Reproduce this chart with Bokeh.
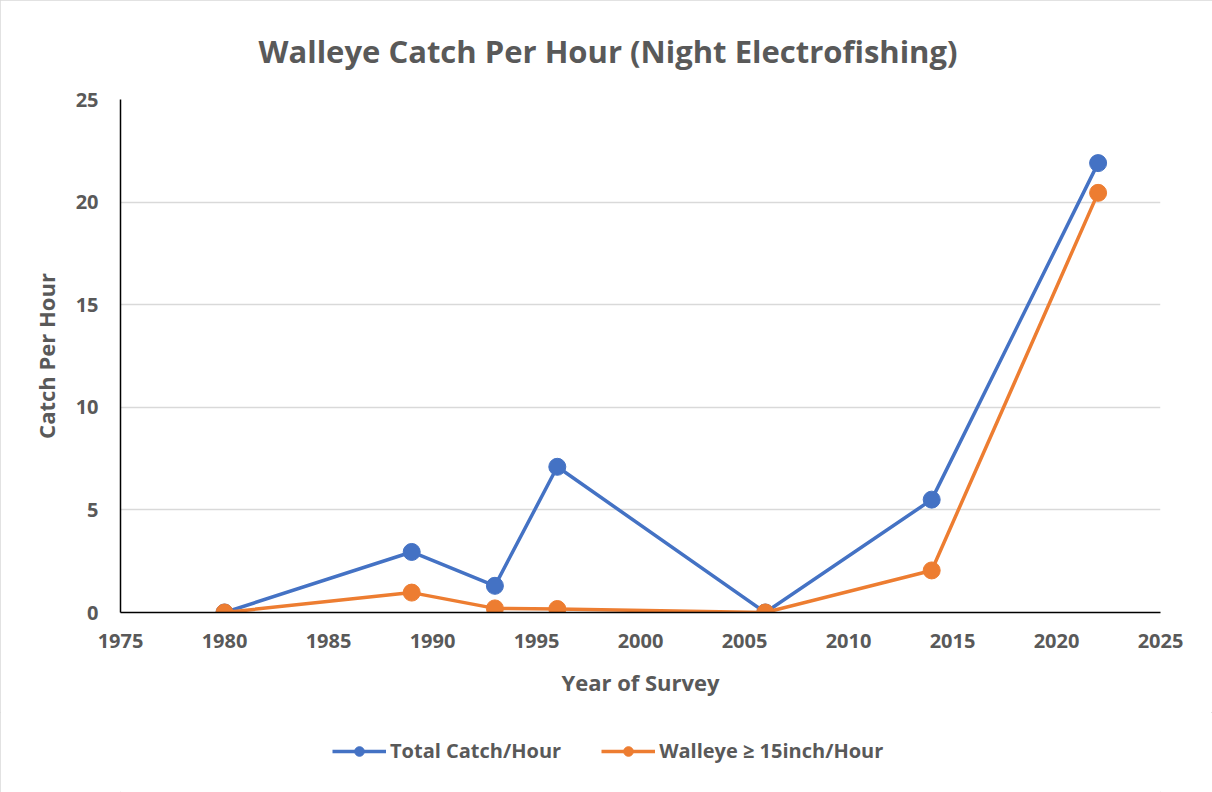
from bokeh.plotting import figure
from bokeh.layouts import column
from bokeh.models import Legend, LegendItem, Range1d, SingleIntervalTicker
from bokeh.embed import file_html
from bokeh.resources import INLINE

years = [1980, 1989, 1993, 1996, 2006, 2014, 2022]
total_catch = [0.0, 2.95, 1.3, 7.1, 0.0, 5.5, 21.9]
walleye_15 = [0.0, 0.97, 0.2, 0.17, 0.0, 2.05, 20.45]
series_names = ["Total Catch/Hour", "Walleye \u2265 15inch/Hour"]
colors = ["#4472C4", "#ED7D31"]
title_text = "Walleye Catch Per Hour (Night Electrofishing)"
x_label = "Year of Survey"
y_label = "Catch Per Hour"

TXT = "#595959"
FONT = "Open Sans"

p = figure(frame_width=1040, frame_height=513, output_backend="svg", toolbar_location=None,
           x_range=Range1d(1975, 2025), y_range=Range1d(0, 25),
           min_border_left=120, min_border_right=52, min_border_top=99, min_border_bottom=100)
p.outline_line_color = None

p.title.text = title_text
p.title.align = "left"
p.title.offset = 138
p.title.text_font = FONT
p.title.text_font_size = "31px"
p.title.text_font_style = "bold"
p.title.text_color = TXT
p.title.standoff = 55

for ax in (p.xaxis[0], p.yaxis[0]):
    ax.ticker = SingleIntervalTicker(interval=5)
    ax.minor_tick_line_color = None
    ax.major_tick_line_color = None
    ax.major_tick_in = 0
    ax.major_tick_out = 0
    ax.axis_line_color = "black"
    ax.axis_line_width = 1.5
    ax.major_label_text_font = FONT
    ax.major_label_text_font_size = "20px"
    ax.major_label_text_font_style = "bold"
    ax.major_label_text_color = TXT
    ax.axis_label_text_font = FONT
    ax.axis_label_text_font_size = "22px"
    ax.axis_label_text_font_style = "bold"
    ax.axis_label_text_color = TXT

p.xaxis.axis_label = x_label
p.yaxis.axis_label = y_label
p.xaxis.major_label_standoff = 17
p.yaxis.major_label_standoff = 18
p.xaxis.axis_label_standoff = 16
p.yaxis.axis_label_standoff = 12

p.xgrid.grid_line_color = None
p.ygrid.grid_line_color = "#d9d9d9"
p.ygrid.grid_line_width = 1.5

for vals, c in zip([total_catch, walleye_15], colors):
    p.line(years, vals, line_color=c, line_width=3.5)
    p.scatter(years, vals, size=17, fill_color=c, line_color=c)

# legend strip below the chart (its own renderers sit outside its visible range)
lg = figure(width=1212, height=80, output_backend="svg", toolbar_location=None,
            x_range=Range1d(0, 1), y_range=Range1d(0, 1), min_border=0)
lg.axis.visible = False
lg.grid.visible = False
lg.outline_line_color = None
items = []
for name, vals, c in zip(series_names, [total_catch, walleye_15], colors):
    ln = lg.line(years, vals, line_color=c, line_width=3.5)
    sc = lg.scatter(years, vals, size=17, fill_color=c, line_color=c)
    items.append(LegendItem(label=name, renderers=[ln, sc]))

legend = Legend(items=items, orientation="horizontal", location=(212, 28),
                padding=0, margin=0, spacing=40, glyph_width=54, glyph_height=24,
                label_standoff=4, border_line_color=None, background_fill_alpha=0,
                label_text_font=FONT, label_text_font_size="20px",
                label_text_font_style="bold", label_text_color=TXT)
lg.add_layout(legend)

layout = column(p, lg, spacing=0)
layout.styles = {"outline": "1px solid #d9d9d9", "outline-offset": "-1px"}

open("out.html", "w").write(file_html(layout, INLINE))
